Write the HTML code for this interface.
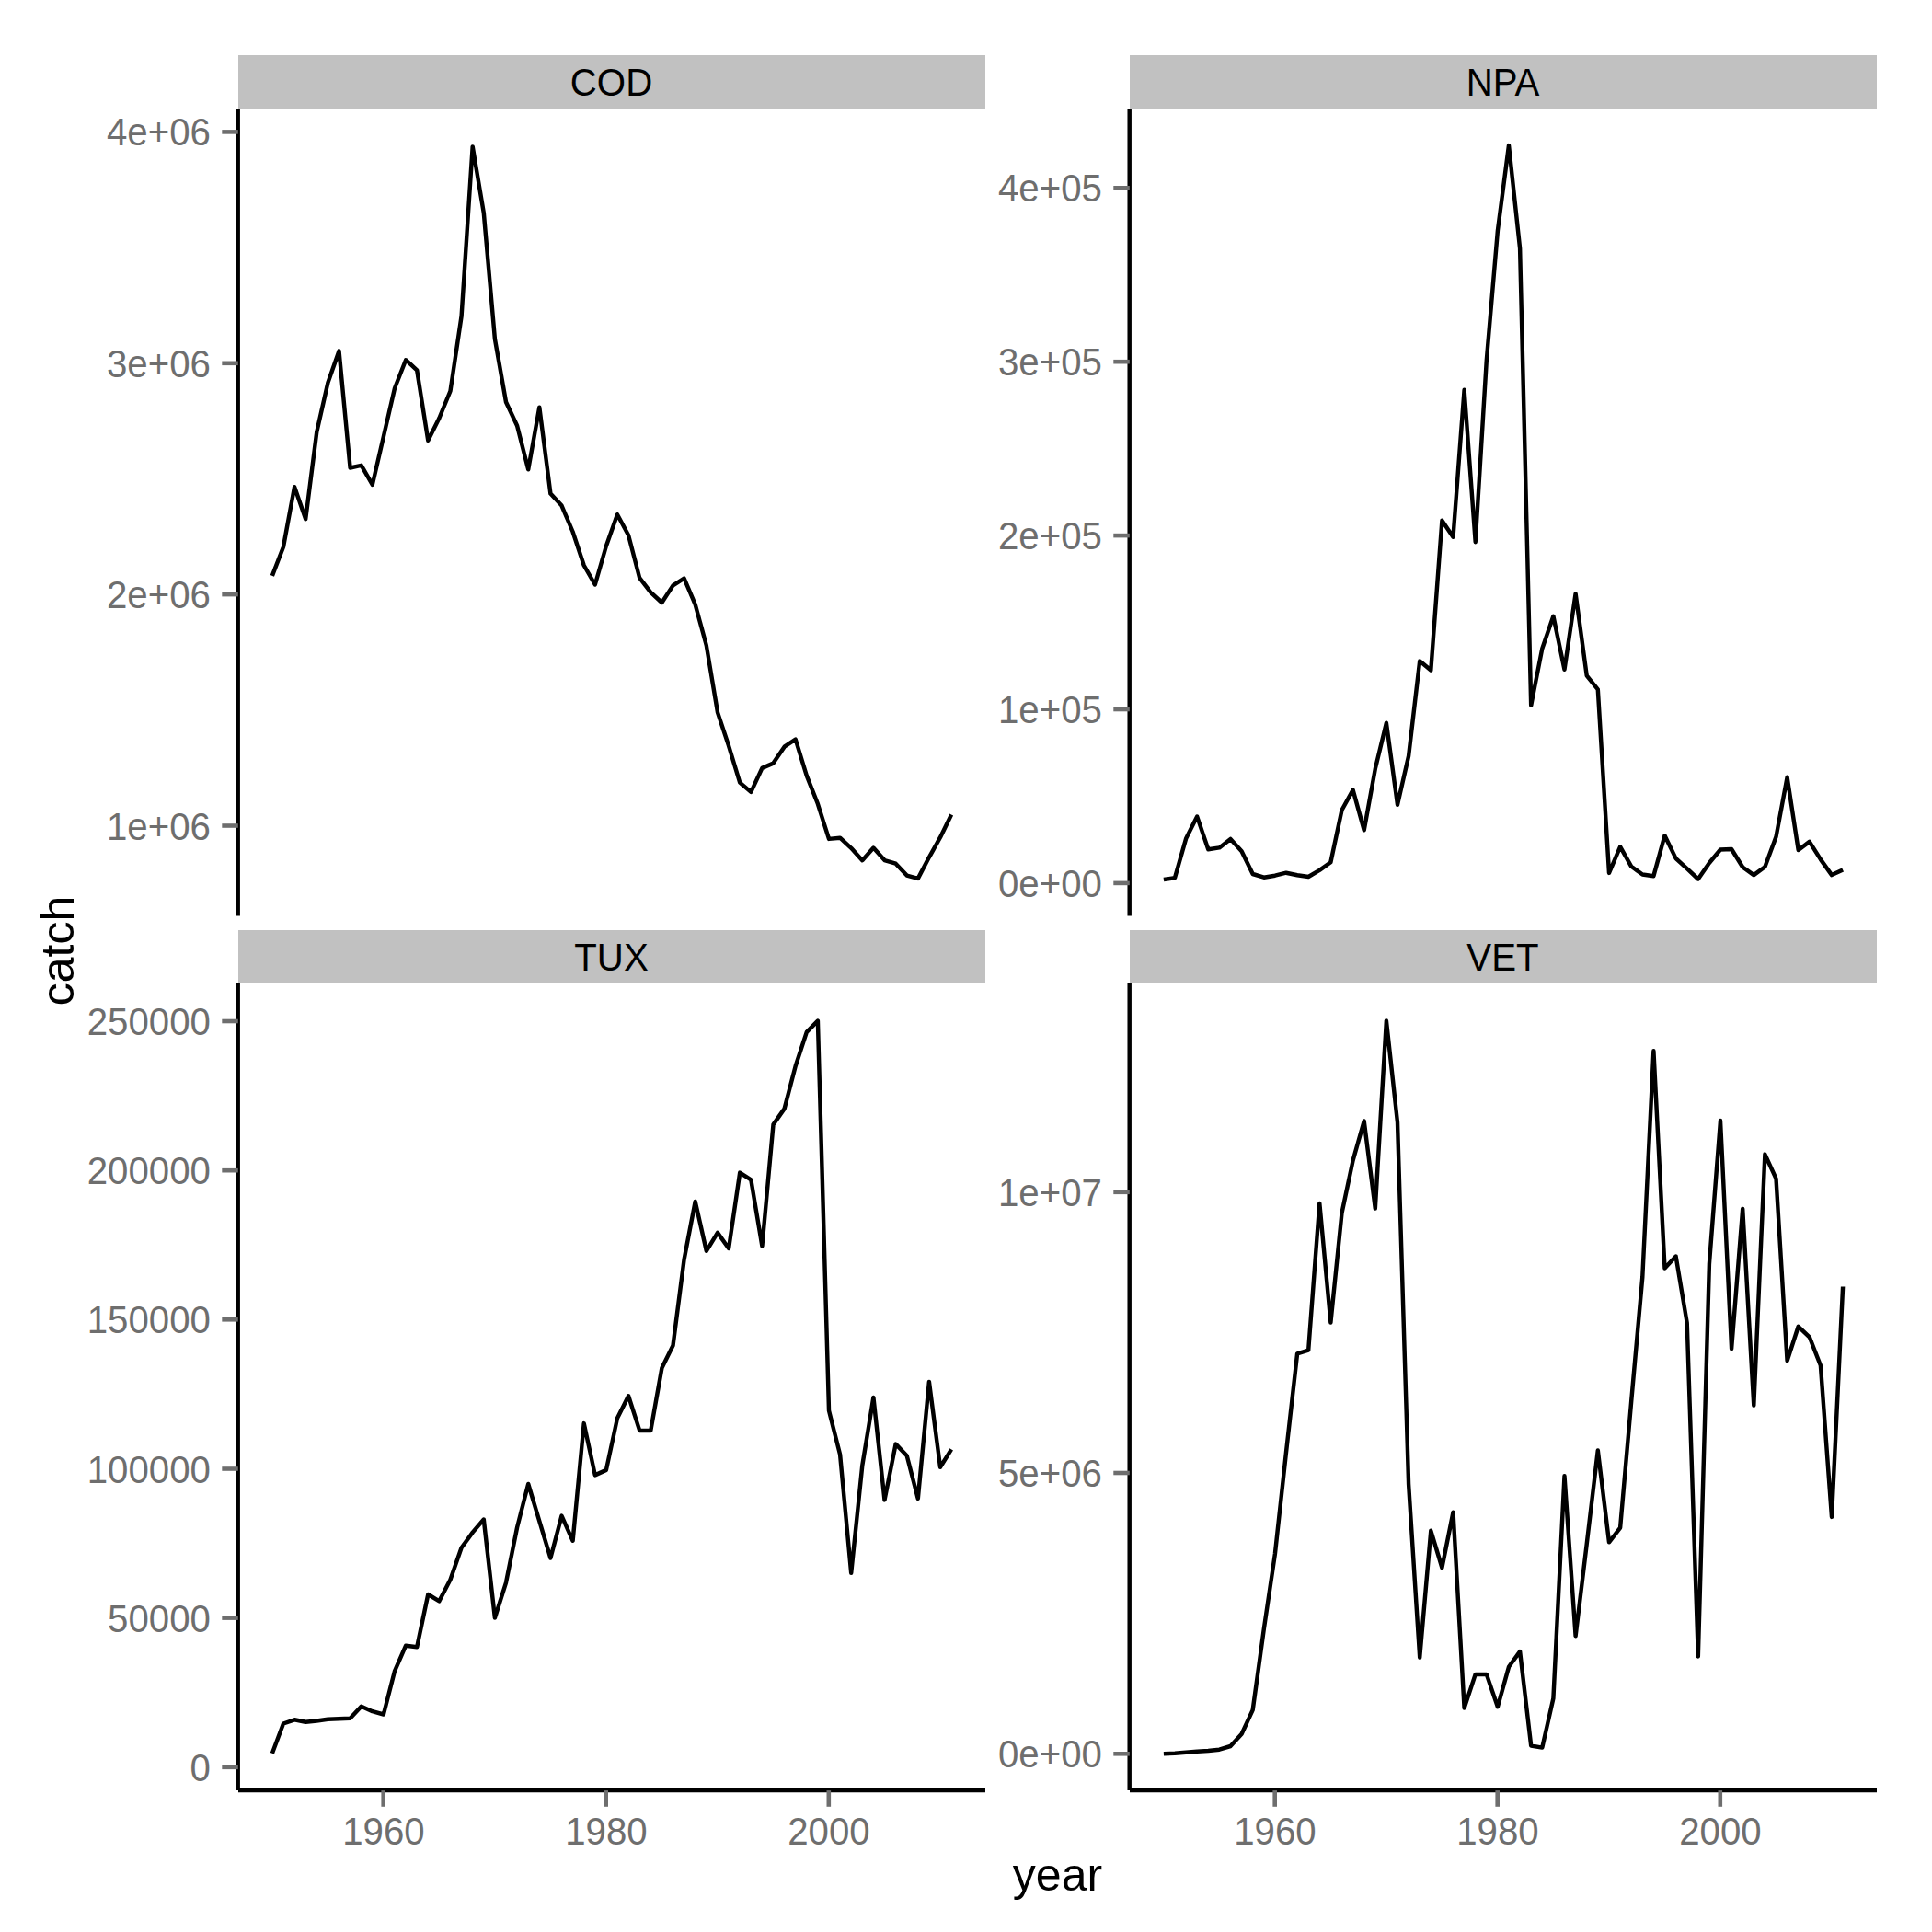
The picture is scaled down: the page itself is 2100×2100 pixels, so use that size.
<!DOCTYPE html>
<html lang="en"><head><meta charset="utf-8"><title>catch by year</title>
<style>html,body{margin:0;padding:0;background:#fff}svg{display:block}text{font-family:"Liberation Sans",Arial,Helvetica,sans-serif}</style></head><body>
<svg width="2100" height="2100" viewBox="0 0 2100 2100">
<rect x="0" y="0" width="2100" height="2100" fill="#ffffff"/>
<g id="panel-COD">
<rect x="259" y="60" width="812" height="58.7" fill="#c1c1c1"/>
<text transform="translate(664.5,104.3) scale(1.006,1.045)" font-size="40" text-anchor="middle" fill="#000">COD</text>
<polyline points="295.9,625.9 308.0,594.5 320.1,529.2 332.2,564.2 344.3,469.4 356.4,416.0 368.5,381.4 380.6,508.5 392.7,505.8 404.8,526.8 416.9,474.5 429.0,422.0 441.1,391.2 453.2,402.4 465.3,478.8 477.4,454.5 489.5,425.0 501.6,343.6 513.7,159.4 525.8,231.3 537.9,368.4 550.0,437.0 562.1,462.7 574.2,510.3 586.3,442.7 598.4,536.6 610.5,549.6 622.6,578.0 634.7,614.5 646.8,635.5 658.9,593.5 671.0,559.2 683.1,581.7 695.2,628.2 707.3,643.8 719.4,655.0 731.5,636.4 743.6,628.6 755.7,657.2 767.8,701.5 780.0,774.4 792.1,810.8 804.2,850.6 816.3,860.9 828.4,834.9 840.5,829.6 852.6,811.7 864.7,803.7 876.8,843.1 888.9,873.8 901.0,911.9 913.1,910.7 925.2,921.8 937.3,935.2 949.4,921.6 961.5,935.1 973.6,938.7 985.7,951.6 997.8,954.9 1009.9,931.8 1022.0,910.2 1034.1,885.4" fill="none" stroke="#000" stroke-width="4.45" stroke-linejoin="round" stroke-linecap="butt"/>
<line x1="258.7" y1="118.7" x2="258.7" y2="995.5" stroke="#000" stroke-width="4.45"/>
<line x1="241.3" y1="897.5" x2="258.8" y2="897.5" stroke="#6e6e6e" stroke-width="4.6000000000000005"/>
<text transform="translate(228.9,912.5) scale(1.006,1.045)" font-size="40" text-anchor="end" fill="#6e6e6e">1e+06</text>
<line x1="241.3" y1="646.1" x2="258.8" y2="646.1" stroke="#6e6e6e" stroke-width="4.6000000000000005"/>
<text transform="translate(228.9,661.1) scale(1.006,1.045)" font-size="40" text-anchor="end" fill="#6e6e6e">2e+06</text>
<line x1="241.3" y1="394.8" x2="258.8" y2="394.8" stroke="#6e6e6e" stroke-width="4.6000000000000005"/>
<text transform="translate(228.9,409.8) scale(1.006,1.045)" font-size="40" text-anchor="end" fill="#6e6e6e">3e+06</text>
<line x1="241.3" y1="143.4" x2="258.8" y2="143.4" stroke="#6e6e6e" stroke-width="4.6000000000000005"/>
<text transform="translate(228.9,158.4) scale(1.006,1.045)" font-size="40" text-anchor="end" fill="#6e6e6e">4e+06</text>
</g>
<g id="panel-NPA">
<rect x="1228" y="60" width="812" height="58.7" fill="#c1c1c1"/>
<text transform="translate(1633.5,104.3) scale(1.006,1.045)" font-size="40" text-anchor="middle" fill="#000">NPA</text>
<polyline points="1264.9,956.0 1277.0,954.2 1289.1,911.6 1301.2,887.6 1313.3,923.2 1325.4,921.4 1337.5,911.9 1349.6,925.2 1361.7,950.0 1373.8,953.7 1385.9,951.7 1398.0,948.7 1410.1,951.2 1422.2,953.0 1434.3,945.9 1446.4,937.3 1458.5,880.5 1470.6,858.6 1482.7,902.3 1494.8,835.8 1506.9,785.7 1519.0,874.7 1531.1,821.7 1543.2,718.5 1555.3,728.5 1567.4,565.8 1579.5,583.7 1591.6,423.8 1603.7,589.2 1615.8,391.6 1627.9,250.8 1640.0,158.1 1652.1,269.9 1664.2,766.7 1676.3,704.9 1688.4,669.8 1700.5,727.7 1712.6,645.4 1724.7,734.3 1736.8,749.3 1749.0,948.9 1761.1,920.4 1773.2,941.8 1785.3,950.5 1797.4,952.2 1809.5,908.2 1821.6,933.1 1833.7,944.2 1845.8,955.5 1857.9,938.0 1870.0,923.5 1882.1,923.0 1894.2,942.5 1906.3,951.1 1918.4,942.3 1930.5,909.6 1942.6,844.8 1954.7,924.0 1966.8,914.9 1978.9,934.1 1991.0,951.1 2003.1,945.4" fill="none" stroke="#000" stroke-width="4.45" stroke-linejoin="round" stroke-linecap="butt"/>
<line x1="1227.7" y1="118.7" x2="1227.7" y2="995.5" stroke="#000" stroke-width="4.45"/>
<line x1="1210.3" y1="959.9" x2="1227.8" y2="959.9" stroke="#6e6e6e" stroke-width="4.6000000000000005"/>
<text transform="translate(1197.9,974.9) scale(1.006,1.045)" font-size="40" text-anchor="end" fill="#6e6e6e">0e+00</text>
<line x1="1210.3" y1="771.0" x2="1227.8" y2="771.0" stroke="#6e6e6e" stroke-width="4.6000000000000005"/>
<text transform="translate(1197.9,786.0) scale(1.006,1.045)" font-size="40" text-anchor="end" fill="#6e6e6e">1e+05</text>
<line x1="1210.3" y1="582.1" x2="1227.8" y2="582.1" stroke="#6e6e6e" stroke-width="4.6000000000000005"/>
<text transform="translate(1197.9,597.1) scale(1.006,1.045)" font-size="40" text-anchor="end" fill="#6e6e6e">2e+05</text>
<line x1="1210.3" y1="393.2" x2="1227.8" y2="393.2" stroke="#6e6e6e" stroke-width="4.6000000000000005"/>
<text transform="translate(1197.9,408.2) scale(1.006,1.045)" font-size="40" text-anchor="end" fill="#6e6e6e">3e+05</text>
<line x1="1210.3" y1="204.3" x2="1227.8" y2="204.3" stroke="#6e6e6e" stroke-width="4.6000000000000005"/>
<text transform="translate(1197.9,219.3) scale(1.006,1.045)" font-size="40" text-anchor="end" fill="#6e6e6e">4e+05</text>
</g>
<g id="panel-TUX">
<rect x="259" y="1011" width="812" height="57.8" fill="#c1c1c1"/>
<text transform="translate(664.5,1054.9) scale(1.006,1.045)" font-size="40" text-anchor="middle" fill="#000">TUX</text>
<polyline points="295.9,1905.8 308.0,1873.5 320.1,1869.3 332.2,1871.8 344.3,1870.5 356.4,1868.8 368.5,1868.3 380.6,1867.8 392.7,1854.8 404.8,1860.2 416.9,1863.5 429.0,1816.3 441.1,1788.7 453.2,1790.3 465.3,1733.0 477.4,1740.3 489.5,1717.0 501.6,1682.2 513.7,1665.6 525.8,1651.5 537.9,1758.5 550.0,1720.3 562.1,1660.3 574.2,1613.0 586.3,1653.4 598.4,1693.5 610.5,1647.6 622.6,1674.8 634.7,1547.1 646.8,1603.4 658.9,1597.9 671.0,1541.6 683.1,1517.3 695.2,1554.9 707.3,1554.9 719.4,1487.0 731.5,1462.6 743.6,1369.0 755.7,1305.9 767.8,1359.8 780.0,1339.9 792.1,1357.0 804.2,1274.6 816.3,1282.4 828.4,1354.3 840.5,1222.4 852.6,1205.1 864.7,1158.7 876.8,1121.9 888.9,1109.6 901.0,1533.2 913.1,1581.0 925.2,1709.7 937.3,1592.8 949.4,1518.9 961.5,1630.4 973.6,1569.6 985.7,1582.2 997.8,1628.9 1009.9,1501.9 1022.0,1594.7 1034.1,1575.4" fill="none" stroke="#000" stroke-width="4.45" stroke-linejoin="round" stroke-linecap="butt"/>
<line x1="258.7" y1="1069" x2="258.7" y2="1946" stroke="#000" stroke-width="4.45"/>
<line x1="259" y1="1946" x2="1071" y2="1946" stroke="#000" stroke-width="4.45"/>
<line x1="241.3" y1="1920.8" x2="258.8" y2="1920.8" stroke="#6e6e6e" stroke-width="4.6000000000000005"/>
<text transform="translate(228.9,1935.8) scale(1.006,1.045)" font-size="40" text-anchor="end" fill="#6e6e6e">0</text>
<line x1="241.3" y1="1758.6" x2="258.8" y2="1758.6" stroke="#6e6e6e" stroke-width="4.6000000000000005"/>
<text transform="translate(228.9,1773.6) scale(1.006,1.045)" font-size="40" text-anchor="end" fill="#6e6e6e">50000</text>
<line x1="241.3" y1="1596.5" x2="258.8" y2="1596.5" stroke="#6e6e6e" stroke-width="4.6000000000000005"/>
<text transform="translate(228.9,1611.5) scale(1.006,1.045)" font-size="40" text-anchor="end" fill="#6e6e6e">100000</text>
<line x1="241.3" y1="1434.3" x2="258.8" y2="1434.3" stroke="#6e6e6e" stroke-width="4.6000000000000005"/>
<text transform="translate(228.9,1449.3) scale(1.006,1.045)" font-size="40" text-anchor="end" fill="#6e6e6e">150000</text>
<line x1="241.3" y1="1272.2" x2="258.8" y2="1272.2" stroke="#6e6e6e" stroke-width="4.6000000000000005"/>
<text transform="translate(228.9,1287.2) scale(1.006,1.045)" font-size="40" text-anchor="end" fill="#6e6e6e">200000</text>
<line x1="241.3" y1="1110.0" x2="258.8" y2="1110.0" stroke="#6e6e6e" stroke-width="4.6000000000000005"/>
<text transform="translate(228.9,1125.0) scale(1.006,1.045)" font-size="40" text-anchor="end" fill="#6e6e6e">250000</text>
<line x1="416.7" y1="1946.1" x2="416.7" y2="1963.8" stroke="#6e6e6e" stroke-width="4.6000000000000005"/>
<text transform="translate(416.9,2005.0) scale(1.006,1.045)" font-size="40" text-anchor="middle" fill="#6e6e6e">1960</text>
<line x1="658.7" y1="1946.1" x2="658.7" y2="1963.8" stroke="#6e6e6e" stroke-width="4.6000000000000005"/>
<text transform="translate(658.9,2005.0) scale(1.006,1.045)" font-size="40" text-anchor="middle" fill="#6e6e6e">1980</text>
<line x1="900.8" y1="1946.1" x2="900.8" y2="1963.8" stroke="#6e6e6e" stroke-width="4.6000000000000005"/>
<text transform="translate(901.0,2005.0) scale(1.006,1.045)" font-size="40" text-anchor="middle" fill="#6e6e6e">2000</text>
</g>
<g id="panel-VET">
<rect x="1228" y="1011" width="812" height="57.8" fill="#c1c1c1"/>
<text transform="translate(1633.5,1054.9) scale(1.006,1.045)" font-size="40" text-anchor="middle" fill="#000">VET</text>
<polyline points="1264.9,1906.2 1277.0,1905.7 1289.1,1904.8 1301.2,1903.7 1313.3,1903.0 1325.4,1901.7 1337.5,1898.0 1349.6,1884.8 1361.7,1858.6 1373.8,1770.8 1385.9,1689.0 1398.0,1578.6 1410.1,1471.3 1422.2,1467.7 1434.3,1307.9 1446.4,1437.6 1458.5,1318.5 1470.6,1261.4 1482.7,1218.5 1494.8,1313.6 1506.9,1109.5 1519.0,1220.0 1531.1,1613.4 1543.2,1801.7 1555.3,1663.8 1567.4,1704.0 1579.5,1643.7 1591.6,1856.6 1603.7,1819.9 1615.8,1819.9 1627.9,1855.2 1640.0,1811.8 1652.1,1795.1 1664.2,1897.5 1676.3,1899.6 1688.4,1846.1 1700.5,1604.3 1712.6,1778.2 1724.7,1678.6 1736.8,1576.5 1749.0,1676.3 1761.1,1660.6 1773.2,1523.0 1785.3,1388.0 1797.4,1142.3 1809.5,1378.6 1821.6,1365.5 1833.7,1437.8 1845.8,1800.5 1857.9,1374.0 1870.0,1218.0 1882.1,1466.1 1894.2,1314.0 1906.3,1527.7 1918.4,1254.6 1930.5,1281.2 1942.6,1479.1 1954.7,1441.8 1966.8,1453.3 1978.9,1484.3 1991.0,1648.9 2003.1,1398.5" fill="none" stroke="#000" stroke-width="4.45" stroke-linejoin="round" stroke-linecap="butt"/>
<line x1="1227.7" y1="1069" x2="1227.7" y2="1946" stroke="#000" stroke-width="4.45"/>
<line x1="1228" y1="1946" x2="2040" y2="1946" stroke="#000" stroke-width="4.45"/>
<line x1="1210.3" y1="1906.3" x2="1227.8" y2="1906.3" stroke="#6e6e6e" stroke-width="4.6000000000000005"/>
<text transform="translate(1197.9,1921.3) scale(1.006,1.045)" font-size="40" text-anchor="end" fill="#6e6e6e">0e+00</text>
<line x1="1210.3" y1="1601.0" x2="1227.8" y2="1601.0" stroke="#6e6e6e" stroke-width="4.6000000000000005"/>
<text transform="translate(1197.9,1616.0) scale(1.006,1.045)" font-size="40" text-anchor="end" fill="#6e6e6e">5e+06</text>
<line x1="1210.3" y1="1295.8" x2="1227.8" y2="1295.8" stroke="#6e6e6e" stroke-width="4.6000000000000005"/>
<text transform="translate(1197.9,1310.8) scale(1.006,1.045)" font-size="40" text-anchor="end" fill="#6e6e6e">1e+07</text>
<line x1="1385.7" y1="1946.1" x2="1385.7" y2="1963.8" stroke="#6e6e6e" stroke-width="4.6000000000000005"/>
<text transform="translate(1385.9,2005.0) scale(1.006,1.045)" font-size="40" text-anchor="middle" fill="#6e6e6e">1960</text>
<line x1="1627.7" y1="1946.1" x2="1627.7" y2="1963.8" stroke="#6e6e6e" stroke-width="4.6000000000000005"/>
<text transform="translate(1627.9,2005.0) scale(1.006,1.045)" font-size="40" text-anchor="middle" fill="#6e6e6e">1980</text>
<line x1="1869.8" y1="1946.1" x2="1869.8" y2="1963.8" stroke="#6e6e6e" stroke-width="4.6000000000000005"/>
<text transform="translate(1870.0,2005.0) scale(1.006,1.045)" font-size="40" text-anchor="middle" fill="#6e6e6e">2000</text>
</g>
<text x="1149.5" y="2055.3" font-size="50" text-anchor="middle" fill="#000">year</text>
<text transform="translate(80.4,1033.5) rotate(-90)" font-size="50" text-anchor="middle" fill="#000">catch</text>
</svg></body></html>
